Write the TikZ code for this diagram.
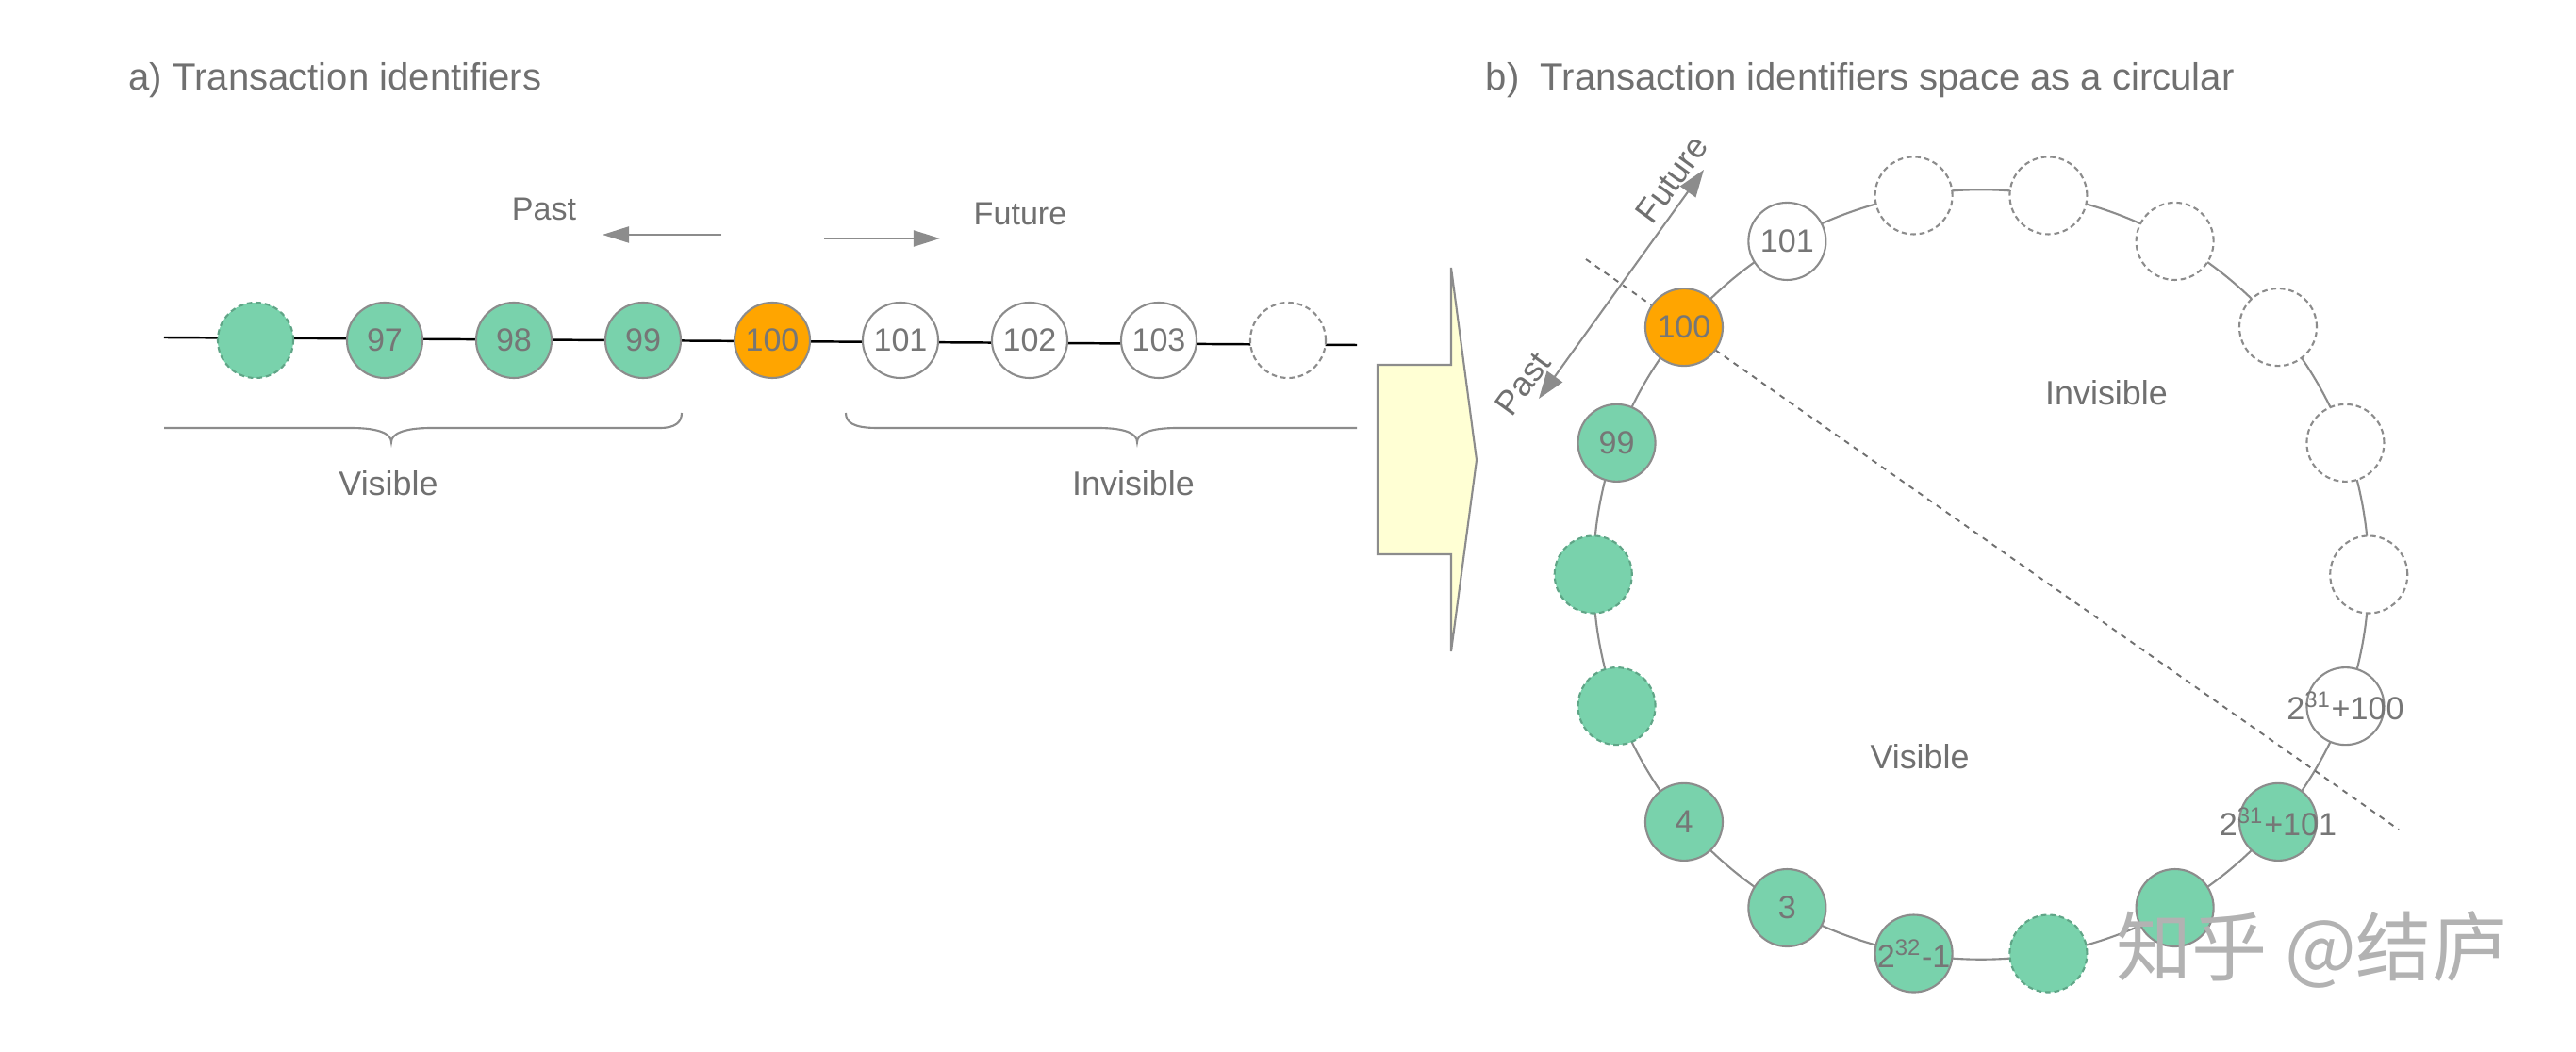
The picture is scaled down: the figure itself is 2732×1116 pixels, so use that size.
\documentclass[tikz,border=0pt]{standalone}
\usepackage{fontspec}
\setmainfont{Liberation Sans}
\newfontfamily\cjkfont{Noto Sans CJK SC}
\usetikzlibrary{arrows.meta}
\definecolor{txtgray}{RGB}{112,112,112}
\definecolor{numgray}{RGB}{118,118,118}
\definecolor{bordergray}{RGB}{140,140,140}
\definecolor{greenfill}{RGB}{121,210,172}
\definecolor{dashgreen}{RGB}{96,165,135}
\definecolor{orangefill}{RGB}{255,165,0}
\definecolor{yellowfill}{RGB}{255,255,212}
\definecolor{wmgray}{RGB}{178,178,178}
\begin{document}
\begin{tikzpicture}[x=0.01cm,y=-0.01cm,
  txt/.style={text=txtgray, font=\fontsize{10.2}{12}\selectfont, inner sep=0pt},
  smalltxt/.style={text=txtgray, font=\fontsize{9.7}{11}\selectfont, inner sep=0pt},
  ttl/.style={text=txtgray, font=\fontsize{11.4}{13}\selectfont, inner sep=0pt, anchor=base west},
  idnode/.style={circle, draw=bordergray, line width=0.6pt, minimum size=0.8cm, inner sep=0pt, text=numgray, font=\fontsize{9.7}{11}\selectfont},
  rnode/.style={minimum size=0.82cm},
  vis/.style={idnode, fill=greenfill},
  cur/.style={idnode, fill=orangefill},
  inv/.style={idnode, fill=white},
  visdash/.style={vis, draw=dashgreen, dash pattern=on 1.6pt off 1.1pt},
  invdash/.style={inv, dash pattern=on 1.6pt off 1.1pt},
  axisline/.style={black, line width=0.7pt},
  gline/.style={draw=bordergray, line width=0.6pt},
  garrow/.style={draw=bordergray, fill=bordergray, line width=0.6pt},
  diag/.style={draw=txtgray, line width=0.55pt, dash pattern=on 1.7pt off 1.7pt},
  blockarrow/.style={fill=yellowfill, draw=bordergray, line width=0.6pt, line join=miter}
]
\useasboundingbox (0,0) rectangle (2732,1116);

% ---------- titles ----------
\node[ttl] (ttla) at (136,96) {a)\ Transaction identifiers};
\node[ttl] (ttlb) at (1575,96) {b)\ \ Transaction identifiers space as a circular};

% ---------- left panel ----------
\coordinate (la) at (174,358);
\coordinate (lb) at (1439,366);
\draw[axisline] (la) -- (lb);

\node[visdash] (l1) at (271,361) {};
\node[vis] (l97) at (408,361) {97};
\node[vis] (l98) at (545,361) {98};
\node[vis] (l99) at (682,361) {99};
\node[cur] (l100) at (819,361) {100};
\node[inv] (l101) at (955,361) {101};
\node[inv] (l102) at (1092,361) {102};
\node[inv] (l103) at (1229,361) {103};
\node[invdash] (l2) at (1366,361) {};

\node[smalltxt] (pastl) at (577,222) {Past};
\node[smalltxt] (futl) at (1082,227) {Future};
\coordinate (pa1) at (765,249);
\coordinate (pa2) at (639,249);
\coordinate (fa1) at (874,253);
\coordinate (fa2) at (997,253);
\draw[garrow, -{Triangle[length=0.28cm,width=0.17cm]}] (pa1) -- (pa2);
\draw[garrow, -{Triangle[length=0.28cm,width=0.17cm]}] (fa1) -- (fa2);

% braces
\draw[gline] (174,454) -- (372,454) .. controls (404,454) and (415,461) .. (415,469)
  .. controls (415,461) and (426,454) .. (458,454) -- (700,454)
  .. controls (716,454) and (723,448) .. (723,438);
\draw[gline] (897,438) .. controls (897,448) and (905,454) .. (930,454) -- (1164,454)
  .. controls (1196,454) and (1206,461) .. (1206,469)
  .. controls (1206,461) and (1217,454) .. (1249,454) -- (1439,454);

\node[txt] (visl) at (412,513) {Visible};
\node[txt] (invl) at (1202,513) {Invisible};

% ---------- block arrow ----------
\draw[blockarrow] (1461,387) -- (1539,387) -- (1539,284) -- (1566,488) -- (1539,691) -- (1539,588) -- (1461,588) -- cycle;

% ---------- right panel ----------
\coordinate (C) at (2101,609.5);
\draw[gline] (C) ellipse [x radius=4.11cm, y radius=4.08cm];

\coordinate (d1) at (1682,275);
\coordinate (d2) at (2544,880);
\draw[diag] (d1) -- (d2);

\path (C) ++(140:4.11cm and 4.08cm) node[cur,rnode] (r100) {100};
\path (C) ++(120:4.11cm and 4.08cm) node[inv,rnode] (r101) {101};
\path (C) ++(100:4.11cm and 4.08cm) node[invdash,rnode] (ra) {};
\path (C) ++(80:4.11cm and 4.08cm) node[invdash,rnode] (rb) {};
\path (C) ++(60:4.11cm and 4.08cm) node[invdash,rnode] (rc) {};
\path (C) ++(40:4.11cm and 4.08cm) node[invdash,rnode] (rd) {};
\path (C) ++(20:4.11cm and 4.08cm) node[invdash,rnode] (re) {};
\path (C) ++(0:4.11cm and 4.08cm) node[invdash,rnode] (rf) {};
\path (C) ++(-20:4.11cm and 4.08cm) node[inv,rnode] (rhalf) {\makebox[0pt]{2\textsuperscript{31}+100}};
\path (C) ++(-40:4.11cm and 4.08cm) node[vis,rnode] (rhalfp) {\makebox[0pt]{2\textsuperscript{31}+101}};
\path (C) ++(-60:4.11cm and 4.08cm) node[vis,rnode] (rg) {};
\path (C) ++(-80:4.11cm and 4.08cm) node[visdash,rnode] (rh) {};
\path (C) ++(-100:4.11cm and 4.08cm) node[vis,rnode] (rmax) {\makebox[0pt]{2\textsuperscript{32}-1}};
\path (C) ++(-120:4.11cm and 4.08cm) node[vis,rnode] (r3) {3};
\path (C) ++(-140:4.11cm and 4.08cm) node[vis,rnode] (r4) {4};
\path (C) ++(-160:4.11cm and 4.08cm) node[visdash,rnode] (ri) {};
\path (C) ++(180:4.11cm and 4.08cm) node[visdash,rnode] (rj) {};
\path (C) ++(160:4.11cm and 4.08cm) node[vis,rnode] (r99) {99};

\coordinate (pe) at (1632,423);
\coordinate (fe) at (1807,180);
\draw[garrow, {Triangle[length=0.29cm,width=0.2cm]}-{Triangle[length=0.29cm,width=0.2cm]}] (pe) -- (fe);
\node[txt, rotate=54] (futr) at (1773,190) {Future};
\node[txt, rotate=54] (pastr) at (1615,407) {Past};

\node[txt] (invr) at (2234,417) {Invisible};
\node[txt] (visr) at (2036,803) {Visible};

% watermark
\node[text=wmgray, font=\cjkfont\fontsize{22.8}{26}\selectfont, inner sep=0pt] (wm) at (2452,1008) {知乎 @结庐};
\end{tikzpicture}
\end{document}
